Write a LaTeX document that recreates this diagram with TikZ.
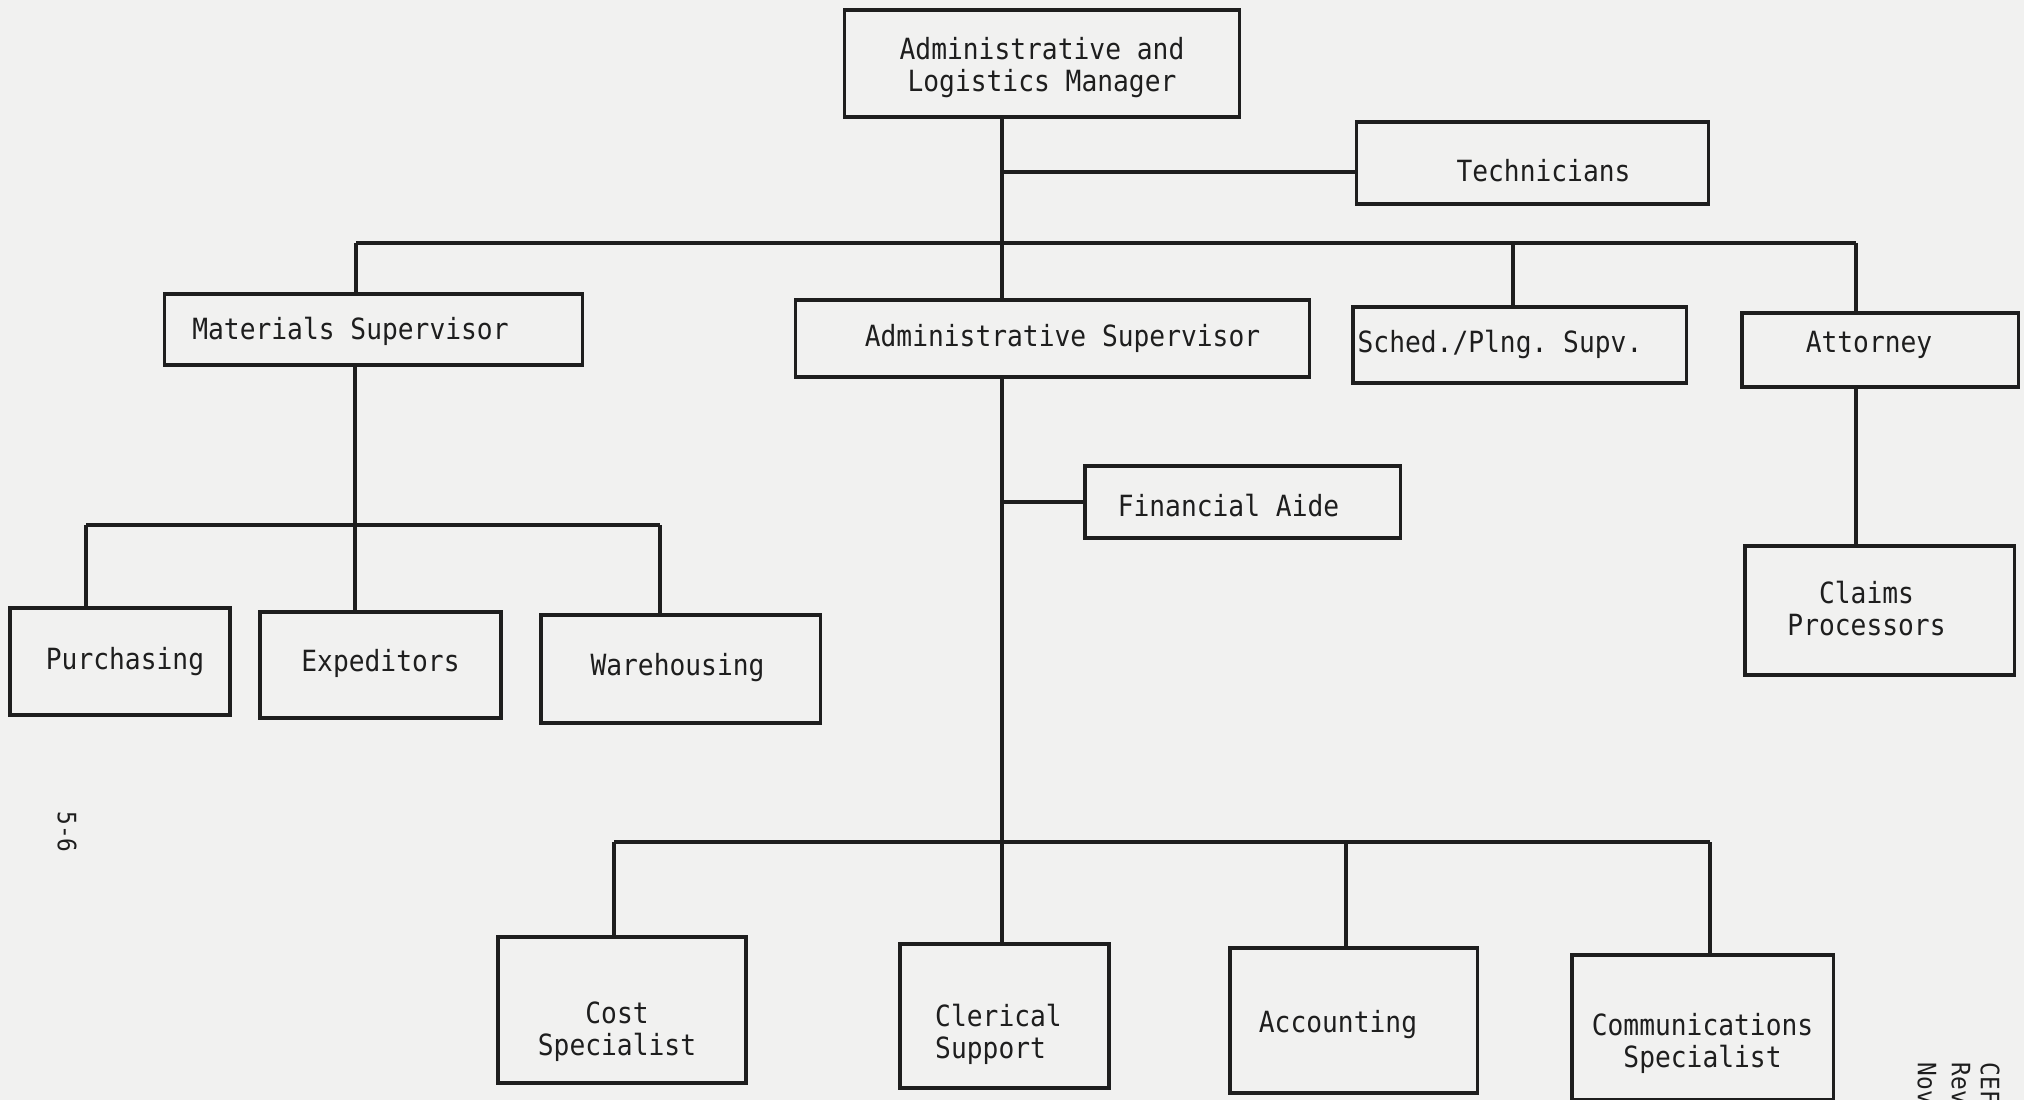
\documentclass[tikz,border=0pt]{standalone}
\usepackage{fontspec}
\newfontfamily\typew[FakeStretch=0.9]{DejaVu Sans Mono}
\definecolor{bgc}{RGB}{241,241,240}
\definecolor{ink}{RGB}{30,30,30}
\newcommand\bt[2]{\raisebox{#1}[\height][\depth]{\begin{tabular}{@{}c@{}}#2\end{tabular}}}
\newcommand\btl[2]{\raisebox{#1}[\height][\depth]{\begin{tabular}{@{}l@{}}#2\end{tabular}}}
\newcommand\padw[1]{\rule{#1}{0pt}}
\tikzset{
  orgbox/.style={draw=ink, line width=0.9pt, inner sep=0pt, text=ink,
    font=\typew\fontsize{8.3}{9.1}\selectfont\frenchspacing},
  link/.style={draw=ink, line width=0.9pt},
  sidetxt/.style={inner sep=0pt, text=ink, font=\typew\fontsize{7.2}{8}\selectfont}
}
\begin{document}
\begin{tikzpicture}[x=0.01cm, y=-0.01cm]
\fill[bgc] (0,0) rectangle (2024,1100);
\useasboundingbox (0,0) rectangle (2024,1100);

% boxes
\node[orgbox, minimum width=3.94cm, minimum height=1.07cm] (mgr) at (1042,63.5) {\bt{-1.5pt}{Administrative and\\Logistics Manager}};
\node[orgbox, minimum width=3.51cm, minimum height=0.82cm] (tech) at (1532.5,163) {\padw{0.22cm}\bt{-3.5pt}{Technicians}};
\node[orgbox, minimum width=4.17cm, minimum height=0.71cm] (matsup) at (373.5,329.5) {\bt{-1.1pt}{Materials Supervisor}\padw{0.46cm}};
\node[orgbox, minimum width=5.13cm, minimum height=0.77cm] (admsup) at (1052.5,338.5) {\padw{0.2cm}\bt{-0.4pt}{Administrative Supervisor}};
\node[orgbox, minimum width=3.33cm, minimum height=0.76cm] (sched) at (1519.5,345) {\bt{-0.2pt}{Sched./Plng. Supv.}\padw{0.39cm}};
\node[orgbox, minimum width=2.76cm, minimum height=0.74cm] (atty) at (1880,350) {\bt{1pt}{Attorney}\padw{0.22cm}};
\node[orgbox, minimum width=2.69cm, minimum height=1.29cm] (claims) at (1879.5,610.5) {\bt{-0.7pt}{Claims\\Processors}\padw{0.26cm}};
\node[orgbox, minimum width=3.15cm, minimum height=0.72cm] (finaid) at (1242.5,502) {\bt{-2.2pt}{Financial Aide}\padw{0.28cm}};
\node[orgbox, minimum width=2.20cm, minimum height=1.07cm] (purch) at (120,661.5) {\padw{0.1cm}\bt{-0.4pt}{Purchasing}};
\node[orgbox, minimum width=2.41cm, minimum height=1.06cm] (exped) at (380.5,665) {\bt{0pt}{Expeditors}};
\node[orgbox, minimum width=2.79cm, minimum height=1.08cm] (wareh) at (680.5,669) {\bt{0pt}{Warehousing}\padw{0.06cm}};
\node[orgbox, minimum width=2.48cm, minimum height=1.46cm] (cost) at (622,1010) {\bt{-6.6pt}{Cost\\Specialist}\padw{0.1cm}};
\node[orgbox, minimum width=2.09cm, minimum height=1.44cm] (clerical) at (1004.5,1016) {\btl{-5.7pt}{Clerical\\Support}\padw{0.12cm}};
\node[orgbox, minimum width=2.47cm, minimum height=1.45cm] (acct) at (1353.5,1020.5) {\bt{-1.5pt}{Accounting}\padw{0.31cm}};
\node[orgbox, minimum width=2.61cm, minimum height=1.45cm] (comms) at (1702.5,1027.5) {\bt{-4.9pt}{Communications\\Specialist}};

% junction coordinates
\coordinate (tk) at (1002,243);
\coordinate (jT) at (1002,172);
\coordinate (barL) at (356,243);
\coordinate (barR) at (1856,243);
\coordinate (jS) at (1513,243);
\coordinate (bot) at (1002,842);
\coordinate (botL) at (614,842);
\coordinate (botR) at (1710,842);
\coordinate (jA) at (1346,842);
\coordinate (mx) at (355,525);
\coordinate (mL) at (86,525);
\coordinate (mR) at (660,525);

% connectors
\draw[link] (mgr.south -| tk) -- (admsup.north -| tk);
\draw[link] (jT) -- (tech.west |- jT);
\draw[link] (barL) -- (barR);
\draw[link] (barL) -- (matsup.north -| barL);
\draw[link] (jS) -- (sched.north -| jS);
\draw[link] (barR) -- (atty.north -| barR);
\draw[link] (atty.south -| barR) -- (claims.north -| barR);
\draw[link] (admsup.south -| tk) -- (bot);
\draw[link] (tk |- finaid.west) -- (finaid.west);
\draw[link] (botL) -- (botR);
\draw[link] (botL) -- (cost.north -| botL);
\draw[link] (bot) -- (clerical.north -| bot);
\draw[link] (jA) -- (acct.north -| jA);
\draw[link] (botR) -- (comms.north -| botR);
\draw[link] (matsup.south -| mx) -- (exped.north -| mx);
\draw[link] (mL) -- (mR);
\draw[link] (mL) -- (purch.north -| mL);
\draw[link] (mR) -- (wareh.north -| mR);

% margin texts
\node[sidetxt, rotate=-90] (pg) at (67,832) {5-6};
\node[sidetxt, rotate=-90, anchor=west] (cef) at (1990,1062) {CEF};
\node[sidetxt, rotate=-90, anchor=west] (rev) at (1961,1062) {Rev};
\node[sidetxt, rotate=-90, anchor=west] (nov) at (1927,1062) {Nov};
\end{tikzpicture}
\end{document}
